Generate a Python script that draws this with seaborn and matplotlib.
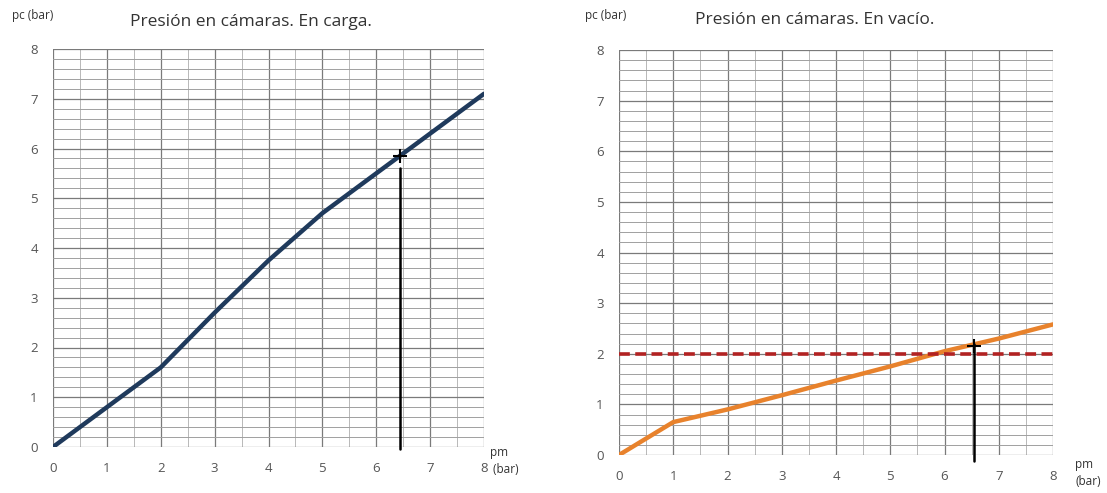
import numpy as np
import pandas as pd
import seaborn as sns
import matplotlib.pyplot as plt

# datos
pm = [0, 1, 2, 3, 4, 5, 6, 7, 8]
pc_carga = [0, 0.8, 1.6, 2.7, 3.75, 4.7, 5.5, 6.3, 7.1]
pc_vacio = [0, 0.65, 0.9, 1.18, 1.47, 1.75, 2.05, 2.3, 2.58]
pm_carga_sel, pc_carga_sel = 6.45, 5.85
pm_vacio_sel, pc_vacio_sel = 6.55, 2.15
pc_limite = 2.0

df = pd.DataFrame({'pm': pm, 'carga': pc_carga, 'vacio': pc_vacio})

sns.set_style('white')
plt.rcParams['font.family'] = ['Open Sans', 'DejaVu Sans']

fig = plt.figure(figsize=(11.07, 4.93), dpi=100)
ax1 = fig.add_axes([53 / 1107, 46 / 493, 431 / 1107, 398 / 493])
ax2 = fig.add_axes([619 / 1107, 38 / 493, 434 / 1107, 405 / 493])


def rejilla(ax):
    ax.set_xlim(0, 8)
    ax.set_ylim(0, 8)
    ax.set_xticks(range(9))
    ax.set_yticks(range(9))
    ax.set_xticks(np.arange(0, 8.01, 0.5), minor=True)
    ax.set_yticks(np.arange(0, 8.01, 0.2), minor=True)
    ax.grid(which='major', color='#7a7a7a', lw=0.9)
    ax.grid(which='minor', axis='y', color='#a0a0a0', lw=0.7)
    ax.grid(which='minor', axis='x', color='#b8b8b8', lw=0.7)
    ax.tick_params(which='major', length=4, color='#7a7a7a', labelsize=9.5,
                   labelcolor='#555555', pad=7)
    ax.tick_params(which='minor', length=0)
    for s in ax.spines.values():
        s.set_visible(False)
    ax.set_xlabel('')
    ax.set_ylabel('')
    ax.set_axisbelow(True)


sns.lineplot(data=df, x='pm', y='carga', ax=ax1, color='#1f3a5c', lw=3.2)
ax1.plot([pm_carga_sel, pm_carga_sel], [-0.05, 5.6], color='black', lw=1.8, clip_on=False)
ax1.plot(pm_carga_sel, pc_carga_sel, marker='+', color='black', ms=10, mew=1.5)
rejilla(ax1)

sns.lineplot(data=df, x='pm', y='vacio', ax=ax2, color='#e8822c', lw=3.2)
ax2.axhline(pc_limite, color='#b22222', lw=2.6, ls=(0, (3, 1.5)))
ax2.plot([pm_vacio_sel, pm_vacio_sel], [-0.12, 2.2], color='black', lw=1.8, clip_on=False)
ax2.plot(pm_vacio_sel, pc_vacio_sel, marker='+', color='black', ms=10, mew=1.5)
rejilla(ax2)

fig.text(251 / 1107, 1 - 22 / 493, 'Presión en cámaras. En carga.', ha='center', va='center',
         fontsize=12.5, color='#333333')
fig.text(815 / 1107, 1 - 20 / 493, 'Presión en cámaras. En vacío.', ha='center', va='center',
         fontsize=12.5, color='#333333')
fig.text(12 / 1107, 1 - 16 / 493, 'pc (bar)', ha='left', va='center', fontsize=8.5, color='#333333')
fig.text(585 / 1107, 1 - 16 / 493, 'pc (bar)', ha='left', va='center', fontsize=8.5, color='#333333')
fig.text(490 / 1107, 1 - 446 / 493, 'pm\n (bar)', ha='left', va='top', fontsize=8.5,
         color='#333333', linespacing=1.4)
fig.text(1075 / 1107, 1 - 458 / 493, 'pm\n(bar)', ha='left', va='top', fontsize=8.5,
         color='#333333', linespacing=1.4)

plt.savefig('out.png', dpi=100)
